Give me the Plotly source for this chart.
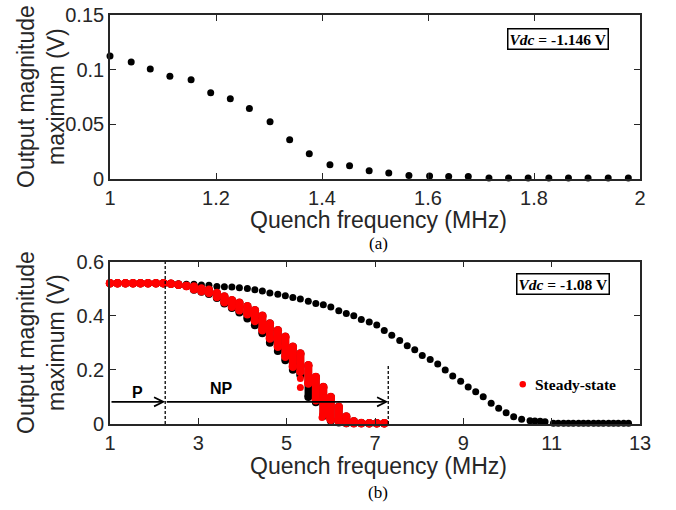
import plotly.graph_objects as go

# ---------------- Data: panel (a) ----------------
a_freq = [1.0, 1.04, 1.076, 1.113, 1.153, 1.19, 1.227, 1.263, 1.302, 1.339, 1.376, 1.415,
          1.452, 1.489, 1.526, 1.564, 1.603, 1.639, 1.676, 1.715, 1.752, 1.789, 1.828,
          1.865, 1.902, 1.94, 1.978]
a_vmax = [0.1126, 0.1071, 0.1007, 0.094, 0.0907, 0.0788, 0.0733, 0.0645, 0.0523, 0.0359,
          0.0231, 0.0131, 0.0122, 0.0076, 0.0055, 0.0033, 0.0027, 0.0024, 0.0024, 0.001,
          0.001, 0.001, 0.001, 0.001, 0.001, 0.001, 0.001]

# ---------------- Data: panel (b), black series ----------------
b_freq = [1.0, 1.17, 1.35, 1.52, 1.69, 1.86, 2.04, 2.21, 2.38, 2.55, 2.73, 2.90, 3.07, 3.24,
          3.42, 3.59, 3.76, 3.93, 4.11, 4.28, 4.45, 4.62, 4.80, 4.97, 5.14, 5.31, 5.49,
          5.66, 5.83, 6.00, 6.18, 6.35, 6.52, 6.69, 6.87, 7.04, 7.21, 7.38, 7.56, 7.73,
          7.90, 8.07, 8.25, 8.42, 8.59, 8.76, 8.94, 9.11, 9.28, 9.45, 9.63, 9.80, 9.97,
          10.14, 10.32, 10.51, 10.62, 10.74, 10.85, 11.04, 11.15, 11.27, 11.38, 11.49,
          11.61, 11.72, 11.83, 11.95, 12.06, 12.17, 12.29, 12.40, 12.51, 12.63, 12.74]
b_vmax = [0.52, 0.52, 0.52, 0.52, 0.52, 0.52, 0.52, 0.52, 0.519, 0.518, 0.516, 0.516, 0.513,
          0.512, 0.508, 0.507, 0.506, 0.503, 0.500, 0.496, 0.491, 0.484, 0.479, 0.474,
          0.467, 0.462, 0.453, 0.445, 0.440, 0.432, 0.418, 0.408, 0.400, 0.386, 0.377,
          0.366, 0.345, 0.328, 0.308, 0.289, 0.274, 0.253, 0.238, 0.222, 0.199, 0.177,
          0.158, 0.137, 0.119, 0.101, 0.077, 0.058, 0.042, 0.027, 0.018, 0.012, 0.011,
          0.010, 0.008, 0.003, 0.003, 0.003, 0.003, 0.003, 0.003, 0.003, 0.003, 0.003,
          0.003, 0.003, 0.003, 0.003, 0.003, 0.003, 0.003]

# ---------------- Data: panel (b), steady-state clusters ----------------
ss_freq = [1.0, 1.17, 1.35, 1.52, 1.69, 1.86, 2.04, 2.21, 2.38, 2.55, 2.73, 2.90, 3.07,
           3.24, 3.42, 3.59, 3.76, 3.93, 4.11, 4.28, 4.45, 4.62, 4.80, 4.97, 5.14, 5.31,
           5.49, 5.66, 5.83, 6.00, 6.18, 6.35, 6.52, 6.69, 6.87, 7.04, 7.21]
ss_low = [0.52, 0.52, 0.52, 0.52, 0.52, 0.52, 0.52, 0.52, 0.518, 0.514, 0.51, 0.498, 0.49,
          0.484, 0.469, 0.45, 0.433, 0.42, 0.405, 0.38, 0.346, 0.316, 0.285, 0.248, 0.211,
          0.193, 0.15, 0.088, 0.033, 0.015, 0.008, 0.004, 0.003, 0.003, 0.003, 0.003, 0.003]
ss_high = [0.52, 0.52, 0.52, 0.52, 0.52, 0.52, 0.52, 0.52, 0.518, 0.514, 0.51, 0.508, 0.50,
           0.496, 0.484, 0.471, 0.457, 0.448, 0.435, 0.42, 0.40, 0.371, 0.346, 0.322, 0.285,
           0.26, 0.217, 0.174, 0.137, 0.10, 0.064, 0.028, 0.01, 0.004, 0.003, 0.003, 0.003]
# transient (black) minima hidden under the clusters
tr_low = [0.52, 0.52, 0.52, 0.52, 0.52, 0.52, 0.52, 0.52, 0.518, 0.514, 0.51, 0.496, 0.488,
          0.48, 0.465, 0.445, 0.428, 0.412, 0.39, 0.365, 0.335, 0.300, 0.27, 0.235, 0.20,
          0.18, 0.10, 0.08, 0.03, 0.012, 0.006, 0.003, 0.003, 0.003, 0.003, 0.003, 0.003]
ss_out_freq = [5.31, 5.31, 5.80, 5.97]
ss_out_val = [0.168, 0.135, 0.024, 0.02]

a_xticks = [1, 1.2, 1.4, 1.6, 1.8, 2]
a_xticktext = ["1", "1.2", "1.4", "1.6", "1.8", "2"]
a_yticks = [0, 0.05, 0.1, 0.15]
a_yticktext = ["0", "0.05", "0.1", "0.15"]
b_xticks = [1, 3, 5, 7, 9, 11, 13]
b_xticktext = ["1", "3", "5", "7", "9", "11", "13"]
b_yticks = [0, 0.2, 0.4, 0.6]
b_yticktext = ["0", "0.2", "0.4", "0.6"]

p_boundary = 2.25
np_boundary = 7.3
arrow_level = 0.082

# ---------------- Figure ----------------
W, H = 676, 510


def xp(px):
    return px / W


def yp(py):
    return 1 - py / H


fig = go.Figure()


def seg_trace(xs, lo, hi, color, size, axis):
    X, Y = [], []
    for x, l, h in zip(xs, lo, hi):
        X += [x, x, None]
        Y += [l, h, None]
    return go.Scatter(x=X, y=Y, mode="lines+markers", xaxis=axis[0], yaxis=axis[1],
                      line=dict(color=color, width=size - 0.5),
                      marker=dict(color=color, size=size), cliponaxis=False,
                      connectgaps=False, hoverinfo="skip", showlegend=False)


fig.add_trace(go.Scatter(x=a_freq, y=a_vmax, mode="markers", xaxis="x", yaxis="y",
                         marker=dict(color="black", size=7), cliponaxis=False, showlegend=False))

fig.add_trace(go.Scatter(x=b_freq, y=b_vmax, mode="markers", xaxis="x2", yaxis="y2",
                         marker=dict(color="black", size=7), cliponaxis=False, showlegend=False))
fig.add_trace(seg_trace(ss_freq, tr_low, ss_high, "black", 8, ("x2", "y2")))
fig.add_trace(seg_trace(ss_freq, ss_low, ss_high, "#ff0000", 8.5, ("x2", "y2")))
fig.add_trace(go.Scatter(x=ss_out_freq, y=ss_out_val, mode="markers", xaxis="x2", yaxis="y2",
                         marker=dict(color="#ff0000", size=7), cliponaxis=False, showlegend=False))

axcol = "#262626"
tickfont = dict(family="Liberation Sans, Arial", size=20, color=axcol)
common = dict(showline=True, linecolor=axcol, linewidth=1.6, mirror="ticks", ticks="inside",
              ticklen=6, tickwidth=1.2, tickcolor=axcol, showgrid=False, zeroline=False,
              tickfont=tickfont)

fig.update_layout(
    width=W, height=H, margin=dict(l=0, r=0, t=0, b=0, autoexpand=False),
    paper_bgcolor="white", plot_bgcolor="white",
    xaxis=dict(domain=[xp(110), xp(640)], range=[1, 2], tickvals=a_xticks,
               ticktext=a_xticktext, anchor="y", **common),
    yaxis=dict(domain=[yp(179), yp(15)], range=[0, 0.15], tickvals=a_yticks,
               ticktext=a_yticktext, anchor="x", **common),
    xaxis2=dict(domain=[xp(110), xp(640)], range=[1, 13], tickvals=b_xticks,
                ticktext=b_xticktext, anchor="y2", **common),
    yaxis2=dict(domain=[yp(424), yp(261.5)], range=[0, 0.6], tickvals=b_yticks,
                ticktext=b_yticktext, anchor="x2", **common),
)

# dashed boundaries
dash = dict(color="black", width=1.3, dash="3px,2px")
fig.add_shape(type="line", xref="x2", yref="y2", x0=p_boundary, x1=p_boundary, y0=0, y1=0.6, line=dash)
fig.add_shape(type="line", xref="x2", yref="y2", x0=np_boundary, x1=np_boundary, y0=0, y1=0.222, line=dash)

# arrows
for tail, head in [(1, p_boundary), (p_boundary, np_boundary)]:
    fig.add_annotation(x=head, y=arrow_level, ax=tail, ay=arrow_level, xref="x2", yref="y2",
                       axref="x2", ayref="y2", text="", showarrow=True, arrowhead=5,
                       arrowsize=1.0, arrowwidth=1.8, arrowcolor="black")


def ann(x, y, text, font, **kw):
    fig.add_annotation(x=x, y=y, text=text, showarrow=False, font=font,
                       xanchor=kw.pop("xanchor", "center"), yanchor=kw.pop("yanchor", "middle"),
                       **kw)


labfont = dict(family="Liberation Sans, Arial", size=16, color="black")
ann(1.63, 0.118, "<b>P</b>", labfont, xref="x2", yref="y2")
ann(3.52, 0.13, "<b>NP</b>", labfont, xref="x2", yref="y2")

# Vdc boxes
serif = "Liberation Serif, Times New Roman"
boxfont = dict(family=serif, size=15.5, color="black")
ann(xp(558), yp(39), "<b><i>Vdc</i> = -1.146 V</b>", boxfont, xref="paper", yref="paper",
    bordercolor="black", borderwidth=1.5, borderpad=1, bgcolor="white")
ann(xp(563), yp(284), "<b><i>Vdc</i> = -1.08 V</b>", boxfont, xref="paper", yref="paper",
    bordercolor="black", borderwidth=1.5, borderpad=1, bgcolor="white")

# legend entry
fig.add_shape(type="circle", xref="paper", yref="paper", x0=xp(519.5), x1=xp(526),
              y0=yp(387.5), y1=yp(381), fillcolor="#ff0000", line=dict(width=0))
ann(xp(533), yp(384), "<b>Steady-state</b>", boxfont, xref="paper", yref="paper",
    xanchor="left")

# axis titles
titlefont = dict(family="Liberation Sans, Arial", size=23, color=axcol)
for yc in [97, 343]:
    ann(xp(26), yp(yc), "Output magnitude", titlefont, xref="paper", yref="paper", textangle=-90)
    ann(xp(56), yp(yc), "maximum (V)", titlefont, xref="paper", yref="paper", textangle=-90)
ann(xp(378), yp(220), "Quench frequency (MHz)", titlefont, xref="paper", yref="paper")
ann(xp(378), yp(466), "Quench frequency (MHz)", titlefont, xref="paper", yref="paper")
serfont = dict(family=serif, size=17, color="black")
ann(xp(378), yp(243), "(a)", serfont, xref="paper", yref="paper")
ann(xp(378), yp(492), "(b)", serfont, xref="paper", yref="paper")

fig.write_html("out.html")
